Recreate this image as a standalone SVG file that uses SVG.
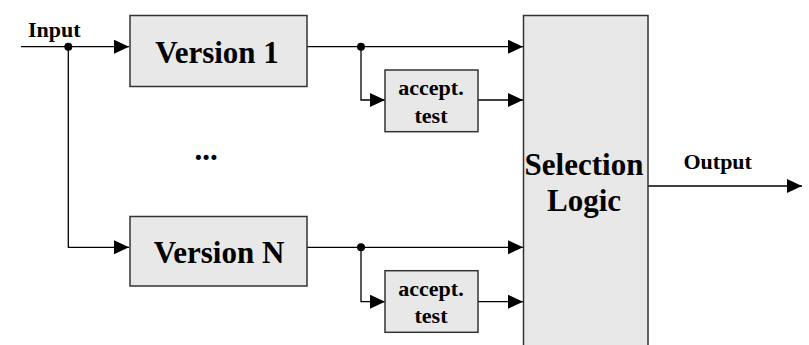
<svg xmlns="http://www.w3.org/2000/svg" width="809" height="345" viewBox="0 0 809 345">
  <defs>
    <marker id="arrow" markerUnits="userSpaceOnUse" markerWidth="16" markerHeight="16" refX="15" refY="7" orient="auto">
      <path d="M0,0 L15,7 L0,14 z" fill="#000"/>
    </marker>
    <style>
      .box { fill: #e8e8e8; stroke: #333; stroke-width: 1.5; }
      .wire { fill: none; stroke: #000; stroke-width: 1.3; }
      .lbl { font-family: "Liberation Serif", "Times New Roman", serif; font-weight: bold; fill: #000; }
      .big { font-size: 31px; text-anchor: middle; }
      .small { font-size: 22px; }
      .mid { text-anchor: middle; }
    </style>
  </defs>
  <rect width="809" height="345" fill="#fff"/>

  <g id="connectors">
    <!-- input -->
    <path class="wire" d="M21,46.7 H129" marker-end="url(#arrow)"/>
    <path class="wire" d="M68.3,46.7 V247.3 H129" marker-end="url(#arrow)"/>
    <circle cx="68.3" cy="46.7" r="4" fill="#000"/>
    <!-- version 1 -->
    <path class="wire" d="M307,46.7 H523" marker-end="url(#arrow)"/>
    <path class="wire" d="M361,46.7 V100 H385" marker-end="url(#arrow)"/>
    <circle cx="361" cy="46.7" r="4" fill="#000"/>
    <path class="wire" d="M478,100 H523" marker-end="url(#arrow)"/>
    <!-- version N -->
    <path class="wire" d="M307,247.3 H523" marker-end="url(#arrow)"/>
    <path class="wire" d="M361,247.3 V301.7 H385" marker-end="url(#arrow)"/>
    <circle cx="361" cy="247.3" r="4" fill="#000"/>
    <path class="wire" d="M478,301.7 H523" marker-end="url(#arrow)"/>
    <!-- output -->
    <path class="wire" d="M648,186 H802" marker-end="url(#arrow)"/>
  </g>

  <g id="input-label">
    <text class="lbl small" x="28" y="37">Input</text>
  </g>

  <g id="version1">
    <rect class="box" x="130" y="15.5" width="177" height="71"/>
    <text class="lbl big" x="217" y="63.3">Version 1</text>
  </g>

  <g id="accept1">
    <rect class="box" x="385" y="70" width="93" height="61.7"/>
    <text class="lbl small mid" x="431" y="95">accept.</text>
    <text class="lbl small mid" x="431" y="122.7">test</text>
  </g>

  <g id="ellipsis">
    <text class="lbl big" x="206" y="160">...</text>
  </g>

  <g id="versionN">
    <rect class="box" x="130" y="216.5" width="177" height="69.5"/>
    <text class="lbl big" x="219" y="262.7">Version N</text>
  </g>

  <g id="acceptN">
    <rect class="box" x="385" y="270.7" width="93" height="61.6"/>
    <text class="lbl small mid" x="431" y="295.7">accept.</text>
    <text class="lbl small mid" x="431" y="322.7">test</text>
  </g>

  <g id="selection">
    <rect class="box" x="523.5" y="15.5" width="124.5" height="340"/>
    <text class="lbl big" x="584" y="175">Selection</text>
    <text class="lbl big" x="584" y="210.7">Logic</text>
  </g>

  <g id="output-label">
    <text class="lbl small mid" x="717.7" y="169">Output</text>
  </g>
</svg>
